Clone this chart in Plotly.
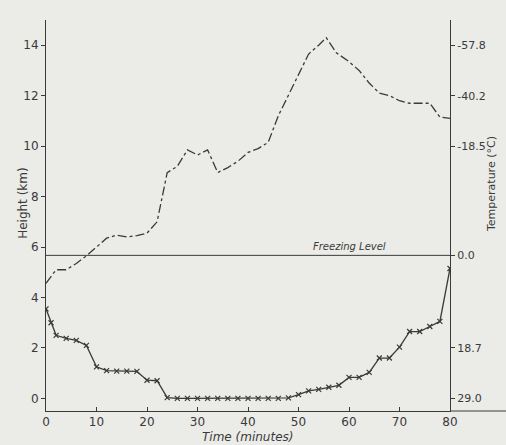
import plotly.graph_objects as go

# Upper curve (dash-dot): height (km) vs time (min)
top_t = [0, 2, 4, 6, 8, 10, 12, 14, 16, 18, 20, 22, 24, 26, 28, 30, 32, 34, 36, 38,
         40, 42, 44, 46, 48, 50, 52, 54, 55.5, 57.5, 60, 62, 64, 66, 68, 70, 72, 74, 76, 78, 80]
top_h = [4.56, 5.1, 5.1, 5.35, 5.65, 6.0, 6.35, 6.47, 6.4, 6.45, 6.55, 7.0, 8.95, 9.2, 9.85, 9.65, 9.85,
         8.95, 9.15, 9.4, 9.75, 9.9, 10.15, 11.2, 12.0, 12.8, 13.65, 14.0, 14.3, 13.7, 13.35, 13.0,
         12.5, 12.1, 12.0, 11.8, 11.7, 11.7, 11.7, 11.15, 11.1]

# Lower curve (crosses)
low_t = [0, 1, 2, 4, 6, 8, 10, 12, 14, 16, 18, 20, 22, 24, 26, 28, 30, 32, 34, 36, 38, 40,
         42, 44, 46, 48, 50, 52, 54, 56, 58, 60, 62, 64, 66, 68, 70, 72, 74, 76, 78, 80]
low_h = [3.55, 3.0, 2.5, 2.38, 2.3, 2.1, 1.25, 1.1, 1.08, 1.08, 1.07, 0.72, 0.7, 0.03, 0.0, 0.0,
         0.0, 0.0, 0.0, 0.0, 0.0, 0.0, 0.0, 0.0, 0.0, 0.02, 0.15, 0.3, 0.36, 0.44, 0.52, 0.83, 0.83,
         1.03, 1.6, 1.6, 2.03, 2.65, 2.65, 2.85, 3.05, 5.15]

freezing_level = 5.67
freeze_t = [0, 80]

x_ticks = [0, 10, 20, 30, 40, 50, 60, 70, 80]
y_ticks = [0, 2, 4, 6, 8, 10, 12, 14]
temp_tick_heights = [14, 12, 10, 5.67, 2, 0]
temp_tick_labels = ["-57.8", "-40.2", "-18.5", "0.0", "18.7", "29.0"]

ink = "#3a3a3a"
bg = "#ebebe8"
font_family = "DejaVu Sans"

fig = go.Figure()
fig.add_trace(go.Scatter(x=top_t, y=top_h, mode="lines",
                         line=dict(color=ink, width=1.3, dash="dashdot"),
                         showlegend=False))
fig.add_trace(go.Scatter(x=low_t, y=low_h, mode="lines+markers",
                         line=dict(color=ink, width=1.3),
                         marker=dict(symbol="x-thin", size=5, line=dict(color=ink, width=1.2)),
                         showlegend=False))
fig.add_trace(go.Scatter(x=freeze_t, y=[freezing_level] * 2, mode="lines",
                         line=dict(color=ink, width=1), yaxis="y2", showlegend=False))

fig.update_layout(
    width=506, height=445,
    paper_bgcolor=bg, plot_bgcolor=bg,
    margin=dict(l=46, r=56, t=20, b=34),
    font=dict(family=font_family, color=ink, size=12),
    xaxis=dict(range=[0, 80], tickvals=x_ticks, showgrid=False, zeroline=False,
               showline=True, linecolor=ink, linewidth=1, ticks="inside", ticklen=4,
               tickcolor=ink, tickfont=dict(size=12), automargin=False),
    yaxis=dict(range=[-0.5, 15], tickvals=y_ticks, showgrid=False, zeroline=False,
               showline=True, linecolor=ink, linewidth=1, ticks="outside", ticklen=4,
               tickcolor=ink, tickfont=dict(size=12), automargin=False),
    yaxis2=dict(range=[-0.5, 15], overlaying="y", side="right", tickvals=temp_tick_heights,
                ticktext=temp_tick_labels, showgrid=False, zeroline=False, showline=True,
                linecolor=ink, linewidth=1, ticks="outside", ticklen=4, tickcolor=ink,
                tickfont=dict(size=11), automargin=False),
    shapes=[dict(type="line", xref="paper", yref="paper", x0=1, x1=1.14, y0=0, y1=0,
                 line=dict(color=ink, width=1))],
    annotations=[
        dict(text="<i>Freezing Level</i>", x=60, y=freezing_level, xref="x", yref="y",
             yanchor="bottom", showarrow=False, font=dict(size=10, color=ink), yshift=1),
        dict(text="<i>Time (minutes)</i>", x=0.5, y=-0.066, xref="paper", yref="paper",
             showarrow=False, font=dict(size=12, color=ink), yanchor="middle"),
        dict(text="Height (km)", x=-0.079, y=0.53, xref="paper", yref="paper",
             showarrow=False, textangle=-90, font=dict(size=12, color=ink)),
        dict(text="Temperature (°C)", x=1.122, y=0.58, xref="paper", yref="paper",
             showarrow=False, textangle=-90, font=dict(size=11, color=ink)),
    ],
)

fig.write_html("out.html", config={"displayModeBar": False},
               post_script="document.body.style.margin='0';document.body.style.overflow='hidden';")
